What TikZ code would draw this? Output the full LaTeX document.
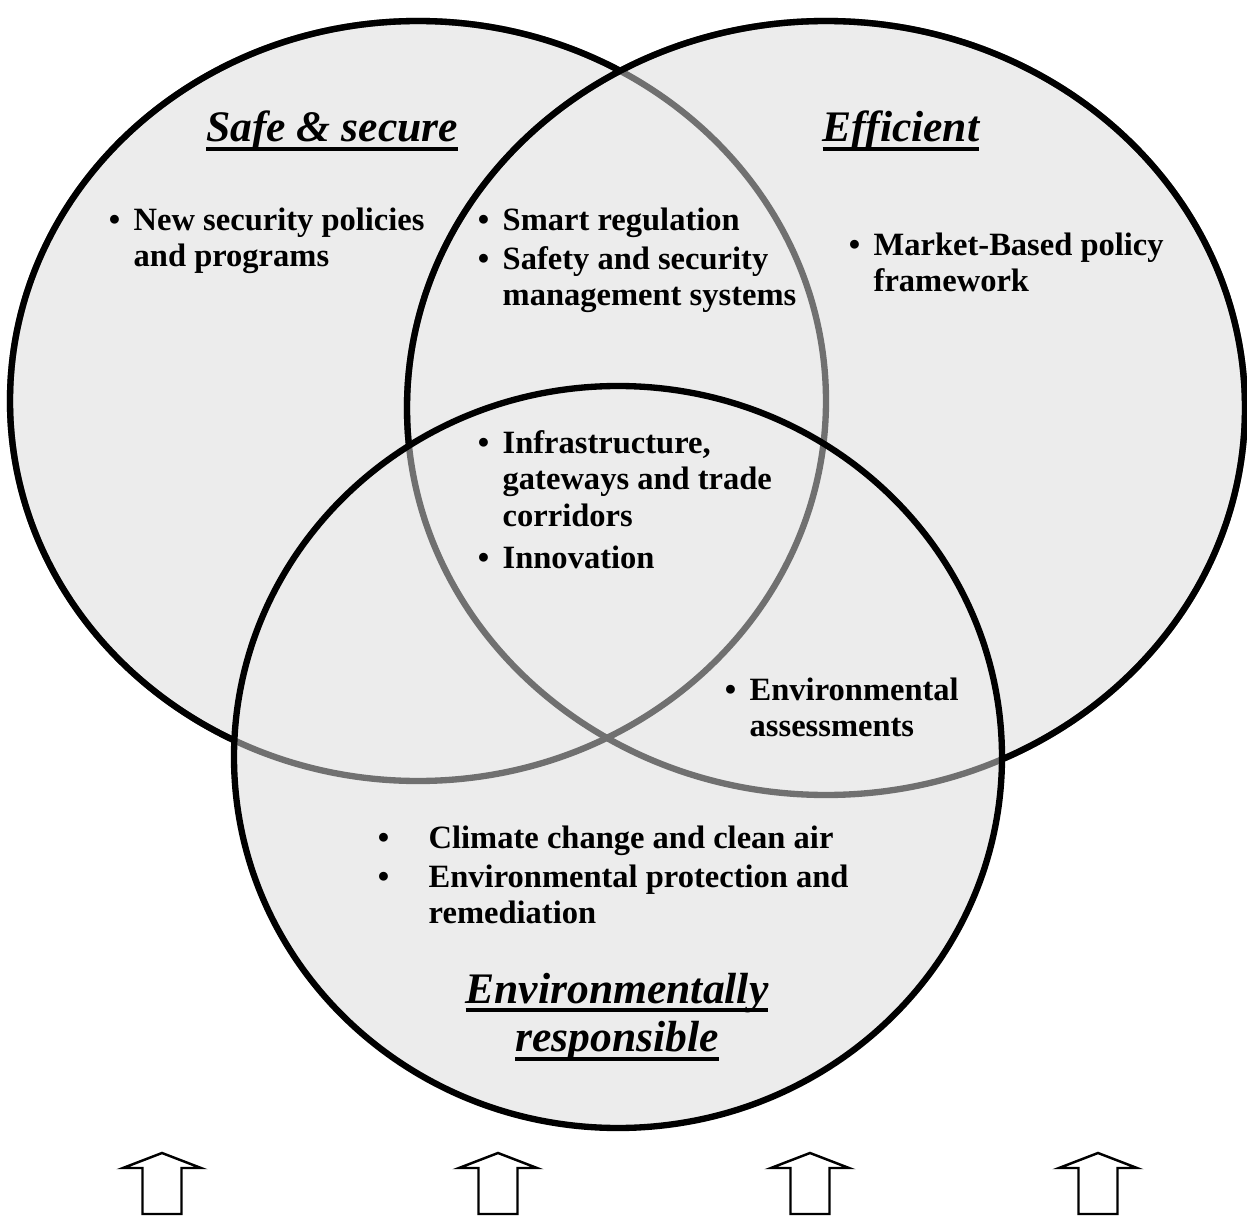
\documentclass[tikz,border=0pt]{standalone}
\usepackage{fontspec}
\setmainfont{Liberation Serif}
\definecolor{venngray}{RGB}{236,236,236}
\definecolor{rimgray}{RGB}{112,112,112}
\newcommand{\bul}[1]{\llap{\textbullet\hspace{#1}}}
\newcommand{\headul}[1]{\setbox0\hbox{#1}\rlap{\rule[-2.6pt]{\wd0}{1.1pt}}\box0}
\newcommand{\lns}[1]{\begin{tabular}[t]{@{}l@{}}#1\end{tabular}}
\newcommand{\clns}[1]{\begin{tabular}[t]{@{}c@{}}#1\end{tabular}}
\tikzset{
  ring/.style={line width=1.8pt},
  heading/.style={font=\fontsize{12.4}{13.9}\selectfont\bfseries\itshape, inner sep=0, anchor=base},
  entry/.style={font=\fontsize{9.25}{10.5}\selectfont\bfseries, inner sep=0, anchor=base west},
  uparrow/.style={line width=0.7pt, fill=white}
}
\begin{document}
\begin{tikzpicture}[x=0.01cm, y=-0.01cm]
\useasboundingbox (0,0) rectangle (1247,1218);
\fill[venngray] (418,401) ellipse [x radius=408, y radius=380];
\fill[venngray] (826,408) ellipse [x radius=419, y radius=387];
\fill[venngray] (618,757) ellipse [x radius=384, y radius=371];
\draw[ring, rimgray] (418,401) ellipse [x radius=408, y radius=380];
\draw[ring, rimgray] (826,408) ellipse [x radius=419, y radius=387];
\begin{scope}[even odd rule]
  \clip (-50,-50) rectangle (1300,1300) (826,408) ellipse [x radius=419, y radius=387];
  \clip (-50,-50) rectangle (1300,1300) (618,757) ellipse [x radius=384, y radius=371];
  \draw[ring] (418,401) ellipse [x radius=408, y radius=380];
\end{scope}
\begin{scope}[even odd rule]
  \clip (-50,-50) rectangle (1300,1300) (618,757) ellipse [x radius=384, y radius=371];
  \draw[ring] (826,408) ellipse [x radius=419, y radius=387];
\end{scope}
\draw[ring] (618,757) ellipse [x radius=384, y radius=371];

\node[heading] (safe) at (332,142) {\headul{Safe \& secure}};
\node[heading] (efficient) at (901,142) {\headul{Efficient}};
\node[heading] (envresp) at (617,1003) {\clns{\headul{Environmentally}\\ \headul{responsible}}};

\node[entry] (secpol) at (133,230) {\lns{\bul{3.8pt}New security policies\\and programs}};
\node[entry] (smartreg) at (502,230) {\lns{\bul{3.8pt}Smart regulation}};
\node[entry] (safetymgmt) at (502,269) {\lns{\bul{3.8pt}Safety and security\\management systems}};
\node[entry] (market) at (873,255) {\lns{\bul{3.8pt}Market-Based policy\\framework}};
\node[entry] (infra) at (502,453) {\lns{\bul{3.8pt}Infrastructure,\\gateways and trade\\corridors}};
\node[entry] (innov) at (502,568) {\lns{\bul{3.8pt}Innovation}};
\node[entry] (envassess) at (749,700) {\lns{\bul{3.8pt}Environmental\\assessments}};
\node[entry] (climate) at (428,848) {\lns{\bul{11.2pt}Climate change and clean air}};
\node[entry] (envprot) at (428,887) {\lns{\bul{11.2pt}Environmental protection and\\remediation}};

\foreach \c in {162,498,810,1098}
  \draw[uparrow] (\c-19.5,1214) -- (\c-19.5,1168) -- (\c-39,1168) -- (\c,1153)
    -- (\c+39,1168) -- (\c+19.5,1168) -- (\c+19.5,1214) -- cycle;
\end{tikzpicture}
\end{document}
